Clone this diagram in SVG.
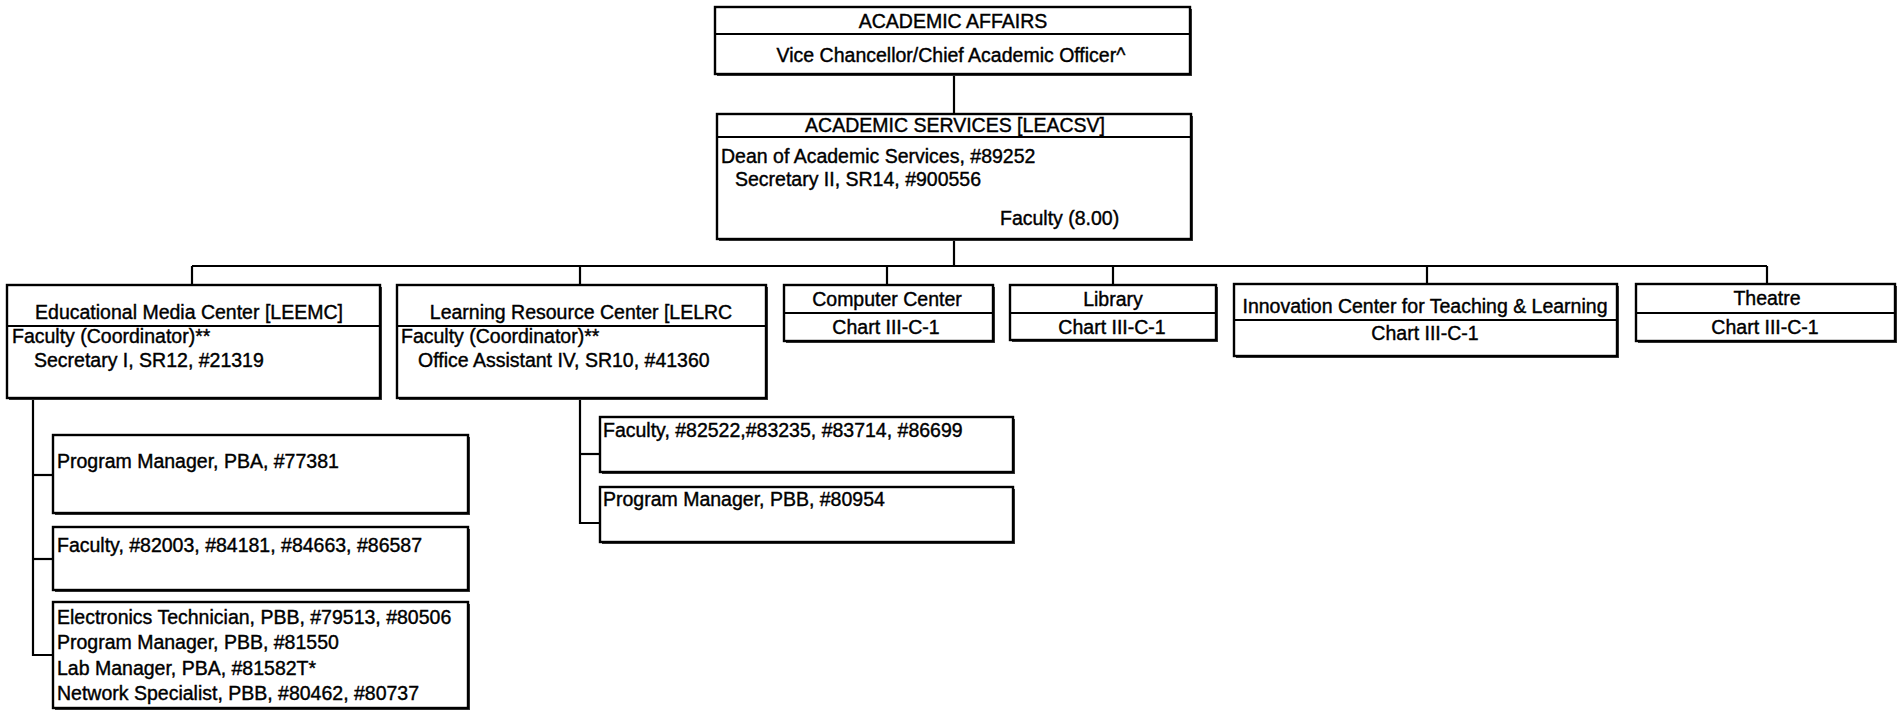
<svg xmlns="http://www.w3.org/2000/svg" width="1900" height="711" viewBox="0 0 1900 711">
<style>
  .bg { fill: #ffffff; }
  .sh { fill: #3a3a3a; }
  .box { fill: #ffffff; stroke: #000000; stroke-width: 2.4; }
  .div { stroke: #000000; stroke-width: 2; }
  .conn { fill: none; stroke: #000000; stroke-width: 2.2; }
  text { font-family: "Liberation Sans", Arial, sans-serif; font-size: 19.5px; fill: #000000; stroke: #000000; stroke-width: 0.4; }
  .c { text-anchor: middle; }
</style>
<rect class="bg" x="0" y="0" width="1900" height="711"/>

<g id="connectors">
  <line class="conn" x1="954" y1="74" x2="954" y2="114"/>
  <line class="conn" x1="954" y1="241" x2="954" y2="266"/>
  <line class="conn" x1="192" y1="266" x2="1767" y2="266"/>
  <line class="conn" x1="192" y1="266" x2="192" y2="285"/>
  <line class="conn" x1="580" y1="266" x2="580" y2="285"/>
  <line class="conn" x1="887" y1="266" x2="887" y2="285"/>
  <line class="conn" x1="1113" y1="266" x2="1113" y2="285"/>
  <line class="conn" x1="1427" y1="266" x2="1427" y2="284"/>
  <line class="conn" x1="1767" y1="266" x2="1767" y2="284"/>
  <polyline class="conn" points="33,398 33,655 53,655"/>
  <line class="conn" x1="33" y1="475" x2="53" y2="475"/>
  <line class="conn" x1="33" y1="559" x2="53" y2="559"/>
  <polyline class="conn" points="580,398 580,523 600,523"/>
  <line class="conn" x1="580" y1="454" x2="600" y2="454"/>
</g>

<g id="academic-affairs">
  <rect class="sh" x="717" y="9" width="475" height="67"/>
  <rect class="box" x="715" y="7" width="475" height="67"/>
  <line class="div" x1="715" y1="34" x2="1190" y2="34"/>
  <text class="c" x="953" y="28">ACADEMIC AFFAIRS</text>
  <text class="c" x="951" y="62">Vice Chancellor/Chief Academic Officer^</text>
</g>

<g id="academic-services">
  <rect class="sh" x="719" y="116" width="474" height="125"/>
  <rect class="box" x="717" y="114" width="474" height="125"/>
  <line class="div" x1="717" y1="137" x2="1191" y2="137"/>
  <text class="c" x="955" y="132">ACADEMIC SERVICES [LEACSV]</text>
  <text x="721" y="163">Dean of Academic Services, #89252</text>
  <text x="735" y="186">Secretary II, SR14, #900556</text>
  <text x="1000" y="225">Faculty (8.00)</text>
</g>

<g id="emc">
  <rect class="sh" x="9" y="287" width="373" height="113"/>
  <rect class="box" x="7" y="285" width="373" height="113"/>
  <line class="div" x1="7" y1="326" x2="380" y2="326"/>
  <text class="c" x="189" y="319">Educational Media Center [LEEMC]</text>
  <text x="12" y="343">Faculty (Coordinator)**</text>
  <text x="34" y="367">Secretary I, SR12, #21319</text>
</g>

<g id="lrc">
  <rect class="sh" x="399" y="287" width="369" height="113"/>
  <rect class="box" x="397" y="285" width="369" height="113"/>
  <line class="div" x1="397" y1="326" x2="766" y2="326"/>
  <text class="c" x="581" y="319">Learning Resource Center [LELRC</text>
  <text x="401" y="343">Faculty (Coordinator)**</text>
  <text x="418" y="367">Office Assistant IV, SR10, #41360</text>
</g>

<g id="computer-center">
  <rect class="sh" x="786" y="287" width="209" height="56"/>
  <rect class="box" x="784" y="285" width="209" height="56"/>
  <line class="div" x1="784" y1="313" x2="993" y2="313"/>
  <text class="c" x="887" y="306">Computer Center</text>
  <text class="c" x="886" y="334">Chart III-C-1</text>
</g>

<g id="library">
  <rect class="sh" x="1012" y="287" width="206" height="55"/>
  <rect class="box" x="1010" y="285" width="206" height="55"/>
  <line class="div" x1="1010" y1="313" x2="1216" y2="313"/>
  <text class="c" x="1113" y="306">Library</text>
  <text class="c" x="1112" y="334">Chart III-C-1</text>
</g>

<g id="innovation-center">
  <rect class="sh" x="1236" y="286" width="383" height="72"/>
  <rect class="box" x="1234" y="284" width="383" height="72"/>
  <line class="div" x1="1234" y1="320" x2="1617" y2="320"/>
  <text class="c" x="1425" y="313">Innovation Center for Teaching &amp; Learning</text>
  <text class="c" x="1425" y="340">Chart III-C-1</text>
</g>

<g id="theatre">
  <rect class="sh" x="1638" y="286" width="259" height="57"/>
  <rect class="box" x="1636" y="284" width="259" height="57"/>
  <line class="div" x1="1636" y1="313" x2="1895" y2="313"/>
  <text class="c" x="1767" y="305">Theatre</text>
  <text class="c" x="1765" y="334">Chart III-C-1</text>
</g>

<g id="emc-program-manager">
  <rect class="sh" x="55" y="437" width="415" height="78"/>
  <rect class="box" x="53" y="435" width="415" height="78"/>
  <text x="57" y="468">Program Manager, PBA, #77381</text>
</g>

<g id="emc-faculty">
  <rect class="sh" x="55" y="529" width="415" height="63"/>
  <rect class="box" x="53" y="527" width="415" height="63"/>
  <text x="57" y="552">Faculty, #82003, #84181, #84663, #86587</text>
</g>

<g id="emc-staff">
  <rect class="sh" x="55" y="604" width="415" height="106"/>
  <rect class="box" x="53" y="602" width="415" height="106"/>
  <text x="57" y="624">Electronics Technician, PBB, #79513, #80506</text>
  <text x="57" y="649">Program Manager, PBB, #81550</text>
  <text x="57" y="675">Lab Manager, PBA, #81582T*</text>
  <text x="57" y="700">Network Specialist, PBB, #80462, #80737</text>
</g>

<g id="lrc-faculty">
  <rect class="sh" x="602" y="419" width="413" height="55"/>
  <rect class="box" x="600" y="417" width="413" height="55"/>
  <text x="603" y="437">Faculty, #82522,#83235, #83714, #86699</text>
</g>

<g id="lrc-program-manager">
  <rect class="sh" x="602" y="489" width="413" height="55"/>
  <rect class="box" x="600" y="487" width="413" height="55"/>
  <text x="603" y="506">Program Manager, PBB, #80954</text>
</g>
</svg>
